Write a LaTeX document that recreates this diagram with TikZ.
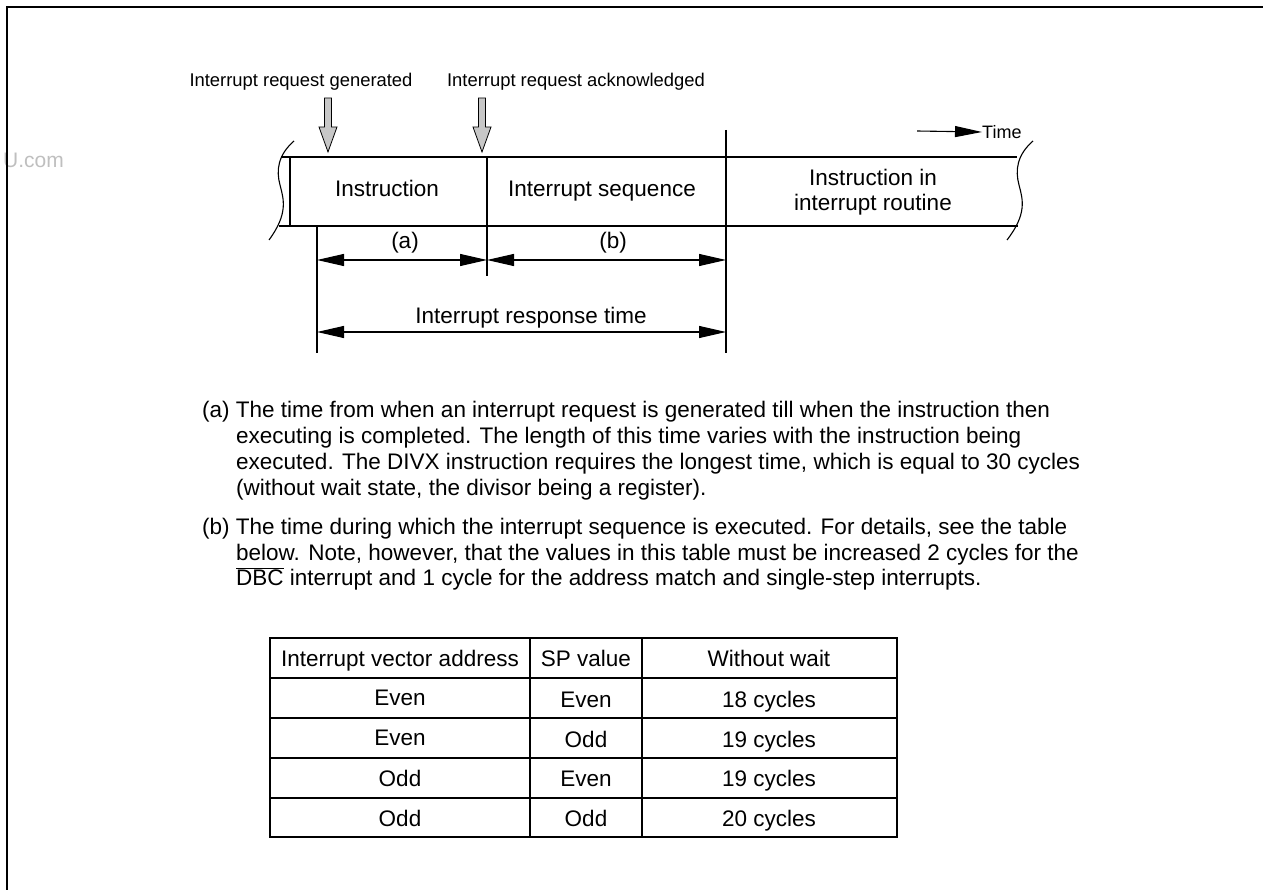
\documentclass[tikz,border=0pt]{standalone}
\usepackage{fontspec}
\setmainfont{Liberation Sans}
\usetikzlibrary{arrows.meta}
\begin{document}
\begin{tikzpicture}[x=1pt,y=-1pt,
  ln/.style={line width=1.1pt},
  dim/.style={line width=1.1pt,{Triangle[length=27pt,width=12pt]}-{Triangle[length=27pt,width=12pt]}},
  big/.style={font=\fontsize{22.5}{25}\selectfont,anchor=base,inner sep=0pt},
  small/.style={font=\fontsize{18.4}{22}\selectfont,anchor=base,inner sep=0pt},
  blk/.style={fill=black!22,draw=black,line width=0.8pt},
  tl/.style={line width=1.4pt},
  para/.style={font=\fontsize{22.5}{26}\selectfont,anchor=base west,inner sep=0pt},
  cell/.style={font=\fontsize{22.5}{26}\selectfont,anchor=base,inner sep=0pt},
  blockarrow/.pic={\draw[blk] (-3.5,0) -- (3.5,0) -- (3.5,29) -- (9,29) -- (0,54) -- (-9,29) -- (-3.5,29) -- cycle;}
]
\useasboundingbox (0,0) rectangle (1263,890);
\node[font=\fontsize{21}{24}\selectfont,text=black!25,anchor=west,inner sep=0pt] (wm) at (3,160) {U.com};
% frame
\draw[line width=2pt] (7,890) -- (7,7) -- (1263,7);

% top labels and block arrows
\node[small] (lgen) at (301,87) {Interrupt request generated};
\node[small] (lack) at (576,87) {Interrupt request acknowledged};
\pic at (328,98) {blockarrow};
\pic at (482,98) {blockarrow};

% time arrow
\coordinate (t0) at (917,131);
\node[font=\fontsize{18}{22}\selectfont,anchor=west,inner sep=0pt] (time) at (982,132) {Time};
\draw[ln,-{Triangle[length=27pt,width=11pt]}] (t0) -- (time.west);

% band
\coordinate (tl1) at (281,157);
\coordinate (tr1) at (1017,157);
\coordinate (bl1) at (279,226);
\coordinate (br1) at (1018,226);
\draw[ln] (tl1) -- (tr1);
\draw[ln] (bl1) -- (br1);
\draw[ln] (294,141) .. controls (278,155) and (276,170) .. (280,185) .. controls (284,200) and (288,214) .. (269,240);
\draw[ln] (1033,141) .. controls (1017,155) and (1015,170) .. (1019,185) .. controls (1023,200) and (1027,214) .. (1007,240);
\draw[ln] (290,157) -- (290,226);
\coordinate (d1t) at (487,157);
\coordinate (d1b) at (487,276);
\draw[ln] (d1t) -- (d1b);
\coordinate (d2t) at (726,130);
\coordinate (d2b) at (726,353);
\draw[ln] (d2t) -- (d2b);
\coordinate (d0t) at (317,226);
\coordinate (d0b) at (317,353);
\draw[ln] (d0t) -- (d0b);

\node[big] (instr) at (387,197) {Instruction};
\node[big] (seq) at (602,197) {Interrupt sequence};
\node[big] (rout1) at (873,186) {Instruction in};
\node[big] (rout2) at (873,211) {interrupt routine};

% dimension arrows
\coordinate (a0) at (317,260);
\coordinate (a1) at (487,260);
\coordinate (b1) at (726,260);
\draw[dim] (a0) -- (a1);
\draw[dim] (a1) -- (b1);
\node[big] (la) at (405,249) {(a)};
\node[big] (lb) at (613,249) {(b)};
\coordinate (r0) at (317,332);
\coordinate (r1) at (726,332);
\draw[dim] (r0) -- (r1);
\node[big] (lr) at (531,324) {Interrupt response time};

% paragraphs
\node[para] (pa1) at (202,417) {(a) The time from when an interrupt request is generated till when the instruction then};
\node[para] (pa2) at (236,443) {executing is completed. The length of this time varies with the instruction being};
\node[para] (pa3) at (236,469) {executed. The DIVX instruction requires the longest time, which is equal to 30 cycles};
\node[para] (pa4) at (236,495) {(without wait state, the divisor being a register).};
\node[para] (pb1) at (202,534) {(b) The time during which the interrupt sequence is executed. For details, see the table};
\node[para] (pb2) at (236,560) {below. Note, however, that the values in this table must be increased 2 cycles for the};
\node[para] (pb3) at (236,585) {$\overline{\mbox{DBC}}$ interrupt and 1 cycle for the address match and single-step interrupts.};

% table
\draw[tl] (270,638) rectangle (897,837);
\foreach \yy in {678,718,758,798} \draw[tl] (270,\yy) -- (897,\yy);
\draw[line width=2.6pt] (530,638) -- (530,837);
\draw[tl] (642,638) -- (642,837);
\node[cell] (h1) at (400,666) {Interrupt vector address};
\node[cell] (h2) at (586,666) {SP value};
\node[cell] (h3) at (769,666) {Without wait};
\node[cell] (c11) at (400,705) {Even};
\node[cell] (c12) at (586,707) {Even};
\node[cell] (c13) at (769,707) {18 cycles};
\node[cell] (c21) at (400,745) {Even};
\node[cell] (c22) at (586,747) {Odd};
\node[cell] (c23) at (769,747) {19 cycles};
\node[cell] (c31) at (400,786) {Odd};
\node[cell] (c32) at (586,786) {Even};
\node[cell] (c33) at (769,786) {19 cycles};
\node[cell] (c41) at (400,826) {Odd};
\node[cell] (c42) at (586,826) {Odd};
\node[cell] (c43) at (769,826) {20 cycles};
\end{tikzpicture}
\end{document}
